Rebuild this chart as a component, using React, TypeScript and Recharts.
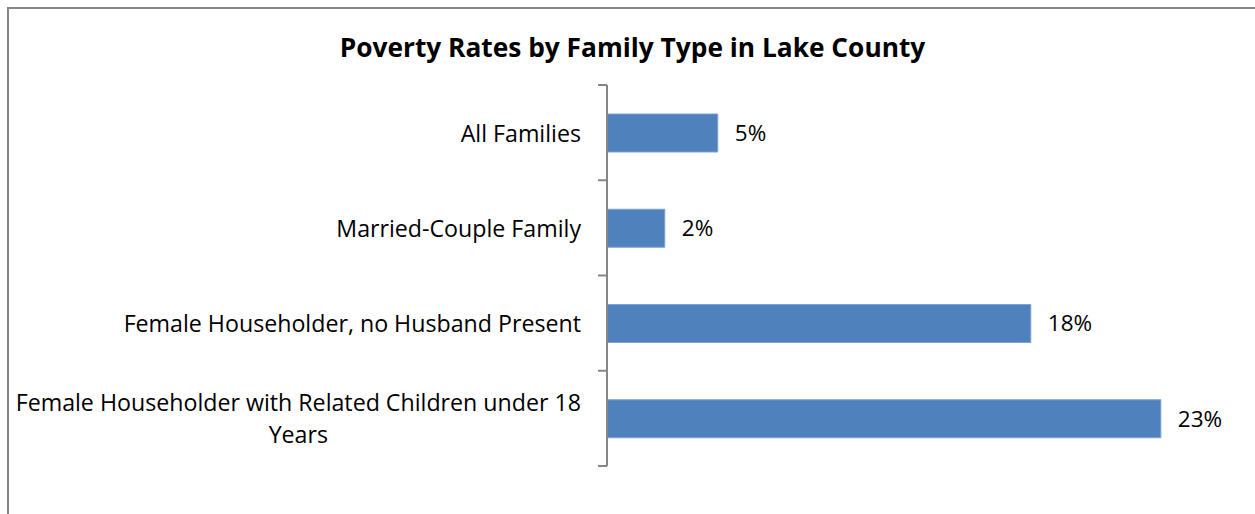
import { BarChart, Bar, XAxis, YAxis, LabelList } from "recharts";

const categories = [
  "All Families",
  "Married-Couple Family",
  "Female Householder, no Husband Present",
  "Female Householder with Related Children under 18 Years",
];
const povertyRates = [4.6, 2.4, 17.6, 23.0];

const data = categories.map((name, i) => ({ name, rate: povertyRates[i] }));

const FONT = "'Open Sans', Lato, sans-serif";
const AXIS_X = 607;
const PLOT_TOP = 85;
const PLOT_BOTTOM = 466;
const BAND = (PLOT_BOTTOM - PLOT_TOP) / categories.length;
const LABEL_SIZE = 23.2;
const VALUE_SIZE = 22.5;
const LINE_H = 32;
const MAX_LABEL_W = 585;

let ctx: CanvasRenderingContext2D | null = null;
function measure(s: string) {
  if (!ctx) ctx = document.createElement("canvas").getContext("2d");
  if (!ctx) return s.length * 11;
  ctx.font = `${LABEL_SIZE}px ${FONT}`;
  return ctx.measureText(s).width;
}

function wrap(text: string) {
  const words = text.split(" ");
  const lines: string[] = [];
  let cur = "";
  words.forEach((w) => {
    const next = cur ? cur + " " + w : w;
    if (cur && measure(next) > MAX_LABEL_W) {
      lines.push(cur);
      cur = w;
    } else cur = next;
  });
  if (cur) lines.push(cur);
  return lines;
}

function CategoryTick(props: any) {
  const { y, payload, index } = props;
  const lines = wrap(payload.value);
  const right = AXIS_X - 26;
  const widest = Math.max(...lines.map(measure));
  const multi = lines.length > 1;
  const x = multi ? right - widest / 2 : right;
  const startY = y - ((lines.length - 1) * LINE_H) / 2;
  return (
    <g>
      <line x1={AXIS_X - 9} x2={AXIS_X} y1={y - BAND / 2} y2={y - BAND / 2} stroke="#868686" strokeWidth={2} />
      {index === categories.length - 1 && (
        <line x1={AXIS_X - 9} x2={AXIS_X} y1={y + BAND / 2} y2={y + BAND / 2} stroke="#868686" strokeWidth={2} />
      )}
      <text
        x={x}
        y={startY}
        textAnchor={multi ? "middle" : "end"}
        dominantBaseline="central"
        fontFamily={FONT}
        fontSize={LABEL_SIZE}
        fill="#000"
      >
        {lines.map((l, i) => (
          <tspan key={i} x={x} dy={i === 0 ? 0 : LINE_H}>
            {l}
          </tspan>
        ))}
      </text>
    </g>
  );
}

export default function App() {
  return (
    <div
      style={{
        position: "absolute",
        left: 0,
        top: 0,
        width: 1255,
        height: 514,
        overflow: "hidden",
        background: "#fff",
      }}
    >
      <div
        style={{
          position: "absolute",
          left: 7,
          top: 7,
          width: 1320,
          height: 580,
          border: "2px solid #868686",
        }}
      />
      <div
        style={{
          position: "absolute",
          left: 0,
          width: 1265,
          top: 29,
          textAlign: "center",
          fontFamily: FONT,
          fontWeight: "bold",
          fontSize: 26.3,
          color: "#000",
        }}
      >
        Poverty Rates by Family Type in Lake County
      </div>
      <div style={{ position: "absolute", left: 0, top: 0 }}>
        <BarChart
          layout="vertical"
          width={1255}
          height={514}
          data={data}
          margin={{ top: PLOT_TOP, right: 46, bottom: 514 - PLOT_BOTTOM, left: 0 }}
        >
          <XAxis type="number" domain={[0, 25]} hide />
          <YAxis
            type="category"
            dataKey="name"
            width={AXIS_X}
            axisLine={{ stroke: "#868686", strokeWidth: 2 }}
            tickLine={false}
            tick={<CategoryTick />}
            interval={0}
          />
          <Bar
            dataKey="rate"
            fill="#4F81BD"
            stroke="#7FA3D3"
            strokeWidth={1}
            barSize={38}
            isAnimationActive={false}
          >
            <LabelList
              dataKey="rate"
              position="right"
              offset={17}
              formatter={(v: any) => `${Math.round(Number(v))}%`}
              style={{ fontFamily: FONT, fontSize: VALUE_SIZE, fill: "#000", stroke: "none" }}
            />
          </Bar>
        </BarChart>
      </div>
    </div>
  );
}
